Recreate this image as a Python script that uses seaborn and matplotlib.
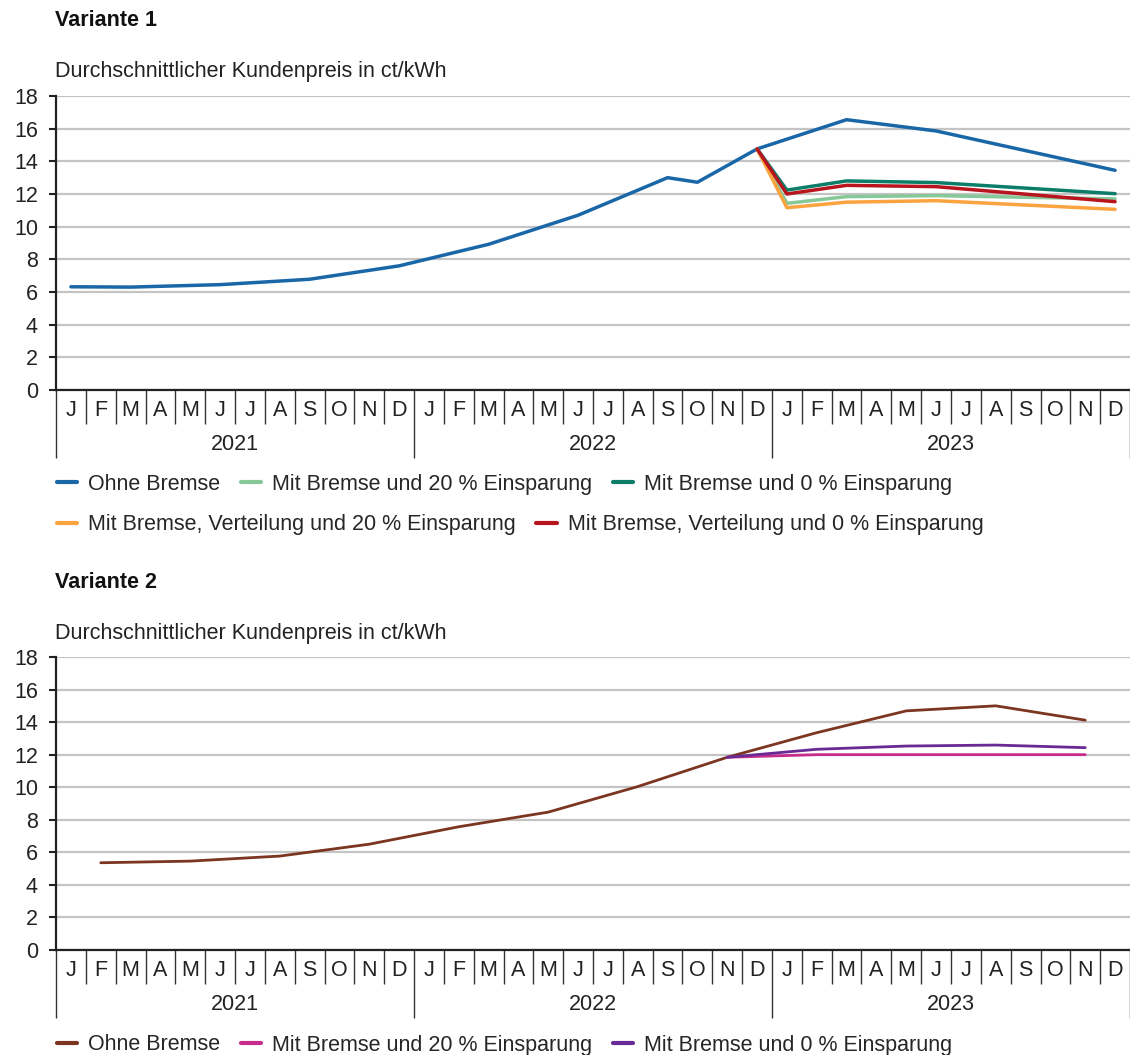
import numpy as np
import pandas as pd
import seaborn as sns
import matplotlib.pyplot as plt
from matplotlib.lines import Line2D

# months on the x axis
months = [str(p) for p in pd.period_range('2021-01', '2023-12', freq='M')]
month_letters = ['J', 'F', 'M', 'A', 'M', 'J', 'J', 'A', 'S', 'O', 'N', 'D'] * 3
years = ['2021', '2022', '2023']

# Variante 1
v1_ohne_m = ['2021-01', '2021-03', '2021-06', '2021-09', '2021-12', '2022-03', '2022-06',
             '2022-09', '2022-10', '2022-12', '2023-03', '2023-06', '2023-12']
v1_ohne = [6.32, 6.30, 6.45, 6.78, 7.60, 8.92, 10.70, 13.00, 12.72, 14.76, 16.55, 15.86, 13.45]
v1_brems_m = ['2022-12', '2023-01', '2023-03', '2023-06', '2023-12']
v1_b20 = [14.76, 11.43, 11.84, 11.90, 11.70]
v1_b0 = [14.76, 12.24, 12.80, 12.70, 12.02]
v1_v20 = [14.76, 11.16, 11.50, 11.59, 11.06]
v1_v0 = [14.76, 12.00, 12.53, 12.45, 11.53]

# Variante 2
v2_ohne_m = ['2021-02', '2021-05', '2021-08', '2021-11', '2022-02', '2022-05', '2022-08',
             '2022-11', '2023-02', '2023-05', '2023-08', '2023-11']
v2_ohne = [5.36, 5.46, 5.77, 6.50, 7.57, 8.47, 10.04, 11.84, 13.35, 14.69, 15.00, 14.12]
v2_brems_m = ['2022-11', '2023-02', '2023-05', '2023-08', '2023-11']
v2_b20 = [11.84, 12.00, 12.00, 12.00, 12.00]
v2_b0 = [11.84, 12.33, 12.53, 12.59, 12.43]

lab_ohne = 'Ohne Bremse'
lab_b20 = 'Mit Bremse und 20 % Einsparung'
lab_b0 = 'Mit Bremse und 0 % Einsparung'
lab_v20 = 'Mit Bremse, Verteilung und 20 % Einsparung'
lab_v0 = 'Mit Bremse, Verteilung und 0 % Einsparung'

sns.set_theme(style='white')
plt.rcParams['font.family'] = ['Liberation Sans', 'DejaVu Sans']
FS = 15.5
PX = 72 / 100  # points per pixel

fig = plt.figure(figsize=(11.3, 10.55), dpi=100)
ax1 = fig.add_axes([56 / 1130, 1 - 390 / 1055, 1074 / 1130, 294 / 1055])
ax2 = fig.add_axes([56 / 1130, 1 - 950 / 1055, 1074 / 1130, 293 / 1055])


def idx(ms):
    return [months.index(m) for m in ms]


def draw(ax, series, lw):
    handles = []
    for ms, vals, col, lab in series:
        df = pd.DataFrame({'x': idx(ms), 'y': vals})
        sns.lineplot(data=df, x='x', y='y', color=col, lw=lw, ax=ax, legend=False)
        handles.append(Line2D([], [], color=col, lw=3, label=lab))
    ax.set_xlim(-0.5, 35.5)
    ax.set_ylim(0, 18)
    ax.set_yticks(range(0, 19, 2))
    ax.set_xticks([-0.5, 11.5, 23.5, 35.5])
    ax.set_xticks(np.arange(-0.5, 36, 1), minor=True)
    ax.set_xticklabels([])
    ax.set_xlabel('')
    ax.set_ylabel('')
    ax.yaxis.grid(True, color='#c4c4c4', lw=1.6)
    ax.set_axisbelow(True)
    for s in ['top', 'right']:
        ax.spines[s].set_visible(False)
    for s in ['left', 'bottom']:
        ax.spines[s].set_color('#222222')
        ax.spines[s].set_linewidth(1.6)
    ax.tick_params(axis='y', left=True, length=5, width=1.5, pad=8, labelsize=FS, colors='#222222')
    ax.tick_params(axis='x', which='major', bottom=True, length=68 * PX, width=1, color='#333333')
    ax.tick_params(axis='x', which='minor', bottom=True, length=34 * PX, width=1, color='#333333')
    for i, m in enumerate(month_letters):
        ax.annotate(m, xy=(i, 0), xycoords=('data', 'axes fraction'), xytext=(0, -21 * PX),
                    textcoords='offset points', ha='center', va='center', fontsize=FS, color='#222222')
    for k, y in enumerate(years):
        ax.annotate(y, xy=(5.5 + 12 * k, 0), xycoords=('data', 'axes fraction'), xytext=(0, -55 * PX),
                    textcoords='offset points', ha='center', va='center', fontsize=FS, color='#222222')
    return handles


h1 = draw(ax1, [(v1_ohne_m, v1_ohne, '#1a67a8', lab_ohne),
                (v1_brems_m, v1_b20, '#86c897', lab_b20),
                (v1_brems_m, v1_b0, '#0b7d68', lab_b0),
                (v1_brems_m, v1_v20, '#fba43f', lab_v20),
                (v1_brems_m, v1_v0, '#b8141d', lab_v0)], 2.5)
h2 = draw(ax2, [(v2_ohne_m, v2_ohne, '#7b3520', lab_ohne),
                (v2_brems_m, v2_b20, '#c72b8b', lab_b20),
                (v2_brems_m, v2_b0, '#6a2a94', lab_b0)], 2.0)

leg_kw = dict(loc='center left', frameon=False, fontsize=FS, handlelength=0.95,
              handletextpad=0.5, columnspacing=0.95, borderpad=0, borderaxespad=0)
fig.legend(handles=h1[:3], ncol=3, bbox_to_anchor=(57 / 1130, 1 - 484 / 1055), **leg_kw)
fig.legend(handles=h1[3:], ncol=2, bbox_to_anchor=(57 / 1130, 1 - 525 / 1055), **leg_kw)
fig.legend(handles=h2, ncol=3, bbox_to_anchor=(57 / 1130, 1 - 1045 / 1055), **leg_kw)

fig.text(55 / 1130, 1 - 21 / 1055, 'Variante 1', fontsize=FS, fontweight='bold', va='center', color='#111111')
fig.text(55 / 1130, 1 - 72 / 1055, 'Durchschnittlicher Kundenpreis in ct/kWh', fontsize=FS, va='center', color='#222222')
fig.text(55 / 1130, 1 - 582 / 1055, 'Variante 2', fontsize=FS, fontweight='bold', va='center', color='#111111')
fig.text(55 / 1130, 1 - 633 / 1055, 'Durchschnittlicher Kundenpreis in ct/kWh', fontsize=FS, va='center', color='#222222')

fig.savefig('out.png', dpi=100)
